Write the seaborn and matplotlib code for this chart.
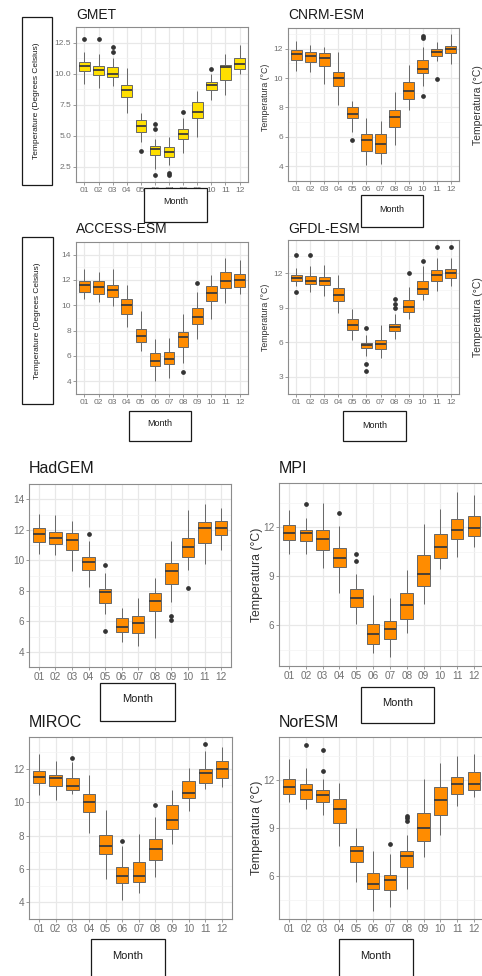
import numpy as np
import pandas as pd
import matplotlib
matplotlib.use("Agg")
import matplotlib.pyplot as plt
import seaborn as sns
from matplotlib.patches import Rectangle
from matplotlib.ticker import FormatStrFormatter

sns.set_theme(style="white")
plt.rcParams["font.family"] = ["Liberation Sans", "DejaVu Sans"]

W, H = 482, 976

MONTHS = ["01", "02", "03", "04", "05", "06", "07", "08", "09", "10", "11", "12"]

# Monthly box statistics: (lower whisker, Q1, median, Q3, upper whisker)
GMET = [(9.18, 10.23, 10.59, 10.96, 11.74), (8.80, 9.86, 10.31, 10.57, 11.60),
        (8.98, 9.73, 9.92, 10.49, 11.27), (6.83, 8.11, 8.66, 9.11, 10.41),
        (4.48, 5.27, 5.79, 6.21, 6.83), (2.27, 3.39, 3.91, 4.17, 4.75),
        (2.66, 3.26, 3.65, 4.04, 4.88), (3.57, 4.69, 5.14, 5.53, 6.44),
        (4.88, 6.44, 6.91, 7.67, 8.61), (7.88, 8.66, 9.05, 9.31, 9.97),
        (8.27, 9.50, 10.54, 10.70, 11.59), (9.92, 10.36, 10.75, 11.27, 12.27)]
GMET_OUT = {1: [12.79], 2: [12.76], 3: [11.74, 12.16], 5: [3.78],
            6: [1.82, 5.53, 5.92], 7: [1.85, 2.00], 8: [6.89], 10: [10.36]}

CNRM = [(10.46, 11.25, 11.62, 11.89, 12.49), (10.40, 11.10, 11.47, 11.74, 12.26),
        (9.61, 10.83, 11.36, 11.72, 12.11), (8.16, 9.44, 9.97, 10.40, 11.79),
        (6.31, 7.27, 7.55, 8.00, 8.42), (4.11, 5.07, 5.82, 6.20, 7.27),
        (4.17, 4.92, 5.50, 6.20, 7.10), (5.45, 6.67, 7.37, 7.80, 9.08),
        (7.84, 8.55, 9.12, 9.76, 10.87), (9.48, 10.34, 10.64, 11.21, 12.11),
        (11.15, 11.53, 11.79, 11.96, 12.47), (10.98, 11.68, 11.96, 12.21, 12.98)]
CNRM_OUT = {5: [5.81], 10: [8.80, 12.70, 12.85], 11: [9.91]}

ACCESS = [(10.47, 11.05, 11.60, 11.91, 12.84), (10.28, 10.86, 11.44, 11.91, 12.65),
          (9.93, 10.67, 11.21, 11.60, 12.88), (8.30, 9.35, 10.00, 10.47, 11.63),
          (6.40, 7.09, 7.56, 8.14, 9.53), (4.00, 5.21, 5.58, 6.26, 7.37),
          (4.23, 5.33, 5.79, 6.33, 7.44), (5.47, 6.74, 7.49, 7.91, 9.35),
          (7.37, 8.53, 9.05, 9.81, 11.05), (8.95, 10.35, 10.98, 11.51, 12.42),
          (10.16, 11.33, 11.91, 12.65, 13.70), (10.86, 11.44, 11.98, 12.44, 13.58)]
ACCESS_OUT = {8: [4.77], 9: [11.80]}

GFDL = [(10.89, 11.35, 11.61, 11.79, 12.43), (10.32, 11.09, 11.35, 11.74, 12.65),
        (10.03, 10.94, 11.28, 11.64, 12.70), (8.56, 9.59, 10.06, 10.68, 11.79),
        (6.23, 7.09, 7.50, 8.04, 8.90), (4.81, 5.46, 5.72, 5.92, 6.60),
        (4.60, 5.38, 5.85, 6.23, 7.53), (6.28, 6.93, 7.32, 7.58, 8.43),
        (8.04, 8.61, 9.03, 9.67, 10.81), (9.67, 10.16, 10.63, 11.28, 12.62),
        (10.45, 11.35, 11.79, 12.26, 13.34), (10.89, 11.61, 12.00, 12.39, 13.34)]
GFDL_OUT = {1: [10.37, 13.55], 2: [13.60], 6: [3.47, 4.11, 7.27],
            8: [9.00, 9.34, 9.72], 9: [12.00], 10: [13.09], 11: [14.30], 12: [14.25]}

HADGEM = [(10.39, 11.20, 11.72, 12.13, 13.01), (10.32, 11.07, 11.48, 11.85, 12.97),
          (9.27, 10.67, 11.35, 11.76, 12.60), (8.24, 9.36, 9.89, 10.21, 11.25),
          (6.47, 7.18, 7.89, 8.11, 9.14), (4.65, 5.31, 5.64, 6.19, 6.90),
          (4.37, 5.21, 5.91, 6.34, 7.51), (4.93, 6.65, 7.33, 7.83, 8.82),
          (7.23, 8.43, 9.27, 9.79, 11.29), (9.38, 10.22, 10.86, 11.48, 13.30),
          (9.76, 11.10, 12.09, 12.54, 13.66), (10.64, 11.66, 12.09, 12.60, 13.44)]
HADGEM_OUT = {4: [11.72], 5: [5.34, 9.66], 9: [6.10, 6.35], 10: [8.15]}

MPI = [(10.33, 11.23, 11.63, 12.10, 13.02), (10.37, 11.13, 11.63, 11.84, 12.57),
       (9.52, 10.62, 11.29, 11.84, 13.48), (7.97, 9.56, 10.13, 10.72, 12.04),
       (6.06, 7.12, 7.67, 8.20, 9.15), (4.31, 4.82, 5.45, 6.10, 7.87),
       (4.07, 5.15, 5.74, 6.26, 7.67), (5.49, 6.35, 7.22, 7.97, 9.40),
       (7.28, 8.40, 9.15, 10.27, 12.20), (9.46, 10.11, 10.78, 11.59, 13.12),
       (10.17, 11.25, 11.80, 12.51, 14.14), (10.78, 11.43, 11.94, 12.67, 13.97)]
MPI_OUT = {2: [13.42], 4: [12.87], 5: [9.90, 10.37]}

MIROC = [(10.42, 11.17, 11.49, 11.87, 12.87), (10.14, 10.98, 11.44, 11.62, 12.49),
         (10.51, 10.74, 10.96, 11.45, 12.40), (8.16, 9.42, 10.02, 10.51, 11.64),
         (5.37, 6.88, 7.40, 8.01, 9.51), (4.11, 5.18, 5.56, 6.12, 7.40),
         (4.56, 5.22, 5.56, 6.44, 8.10), (5.52, 6.56, 7.20, 7.82, 9.10),
         (7.48, 8.42, 8.95, 9.80, 10.74), (9.46, 10.23, 10.55, 11.25, 12.02),
         (10.78, 11.17, 11.77, 12.00, 13.04), (10.89, 11.44, 11.96, 12.47, 13.32)]
MIROC_OUT = {3: [12.66], 6: [7.67], 8: [9.80], 11: [13.51]}

NORESM = [(10.64, 11.12, 11.54, 12.04, 13.30), (10.18, 10.81, 11.37, 11.75, 12.73),
          (9.80, 10.60, 11.06, 11.37, 12.10), (7.88, 9.32, 10.22, 10.79, 11.79),
          (5.62, 6.88, 7.57, 7.88, 9.03), (3.80, 5.18, 5.52, 6.19, 7.57),
          (4.06, 5.10, 5.73, 6.04, 7.36), (5.21, 6.56, 7.23, 7.55, 8.55),
          (7.19, 8.17, 9.03, 9.91, 12.04), (8.55, 9.80, 10.75, 11.54, 13.05),
          (10.37, 11.12, 11.75, 12.21, 13.51), (10.95, 11.41, 11.75, 12.52, 13.63)]
NORESM_OUT = {2: [14.20], 3: [12.60, 13.88], 7: [7.99], 8: [9.45, 9.60, 9.74]}


def month_samples(stats, outliers):
    """Build a per-month sample whose quartiles, whiskers and outliers
    reproduce the given box statistics."""
    rows = []
    for i, (lo, q1, med, q3, hi) in enumerate(stats):
        extra = outliers.get(i + 1, [])
        low_out = sorted(v for v in extra if v < q1)
        high_out = sorted(v for v in extra if v > q3)
        iqr = q3 - q1
        lo = max(lo, q1 - 1.5 * iqr + 1e-6)
        hi = min(hi, q3 + 1.5 * iqr - 1e-6)
        k = max(len(low_out), len(high_out)) + 1
        vals = (low_out + [lo] + [q1] * (k - len(low_out)) + [med] * k + [q3] * k
                + [q3] * (k - 1 - len(high_out)) + [hi] + high_out)
        rows += [(MONTHS[i], v) for v in vals]
    return pd.DataFrame(rows, columns=["Month", "Temp"])


YELLOW = "#FFDF00"
ORANGE = "#FF8C00"

fig = plt.figure(figsize=(W / 100, H / 100), dpi=100)
fig.patch.set_facecolor("white")


def px_axes(l, t, r, b):
    return fig.add_axes([l / W, 1 - b / H, (r - l) / W, (b - t) / H])


panels = [
    # title, stats, outliers, fill, (l, t, r, b), ylim, yticks, fmt, title size, tick size, title baseline
    ("GMET", GMET, GMET_OUT, YELLOW, (76, 27, 248, 182), (1.25, 13.36),
     [2.5, 5.0, 7.5, 10.0, 12.5], "%.1f", 10, 6, 19),
    ("CNRM-ESM", CNRM, CNRM_OUT, ORANGE, (288, 28, 459, 181), (3.6, 13.4),
     [4, 6, 8, 10, 12], "%d", 10, 6, 19),
    ("ACCESS-ESM", ACCESS, ACCESS_OUT, ORANGE, (76, 242, 248, 394), (3.5, 14.07),
     [4, 6, 8, 10, 12, 14], "%d", 10, 6, 233),
    ("GFDL-ESM", GFDL, GFDL_OUT, ORANGE, (288, 240, 459, 394), (2.92, 14.87),
     [3, 6, 9, 12], "%d", 10, 6, 233),
    ("HadGEM", HADGEM, HADGEM_OUT, ORANGE, (29, 484, 231, 667), (3.78, 14.06),
     [4, 6, 8, 10, 12, 14], "%d", 11.5, 7.2, 473),
    ("MPI", MPI, MPI_OUT, ORANGE, (279, 483, 484, 666), (3.5, 14.7),
     [6, 9, 12], "%d", 11.5, 7.2, 473),
    ("MIROC", MIROC, MIROC_OUT, ORANGE, (29, 737, 232, 919), (3.66, 13.9),
     [4, 6, 8, 10, 12], "%d", 11.5, 7.2, 727),
    ("NorESM", NORESM, NORESM_OUT, ORANGE, (279, 737, 484, 919), (3.3, 14.7),
     [6, 9, 12], "%d", 11.5, 7.2, 727),
]

title_specs = []
for (title, stats, outs, fill, rect, ylim, yticks, fmt, tsize, ksize, tbase) in panels:
    ax = px_axes(*rect)
    df = month_samples(stats, outs)
    sns.boxplot(data=df, x="Month", y="Temp", order=MONTHS, color=fill,
                saturation=1, width=0.75, linewidth=0.7, linecolor="#666666",
                showcaps=False, fliersize=2.4,
                medianprops=dict(color="#3b3b3b", linewidth=1.3),
                flierprops=dict(marker="o", markerfacecolor="#333333",
                                markeredgecolor="#333333"),
                ax=ax, zorder=3)
    ax.set_xlim(-0.6, 11.6)
    ax.set_ylim(*ylim)
    ax.set_yticks(yticks)
    step = yticks[1] - yticks[0]
    minor = [v - step / 2 for v in yticks] + [yticks[-1] + step / 2]
    ax.set_yticks(minor, minor=True)
    ax.yaxis.set_major_formatter(FormatStrFormatter(fmt))
    ax.set_xlabel("")
    ax.set_ylabel("")
    ax.set_facecolor("white")
    ax.set_axisbelow(True)
    ax.grid(which="major", color="#E8E8E8", linewidth=0.9)
    ax.grid(which="minor", axis="y", color="#F3F3F3", linewidth=0.5)
    ax.tick_params(which="major", length=2, width=0.6, color="#8a8a8a",
                   labelcolor="#707070", labelsize=ksize, pad=1.5,
                   bottom=True, left=True)
    ax.tick_params(which="minor", length=0)
    for sp in ax.spines.values():
        sp.set_color("#8c8c8c")
        sp.set_linewidth(0.8)
    title_specs.append((title, rect[0], tbase, tsize))

# Overlay in pixel coordinates for titles, axis-label boxes and side labels
ov = fig.add_axes([0, 0, 1, 1], zorder=10)
ov.set_xlim(0, W)
ov.set_ylim(H, 0)
ov.axis("off")
ov.patch.set_alpha(0)

for title, x, base, size in title_specs:
    ov.text(x, base, title, fontsize=size, color="#1a1a1a", ha="left", va="baseline")


def label_box(l, t, r, b, text, size, rotation=0, ty=None):
    ov.add_patch(Rectangle((l, t), r - l, b - t, facecolor="white",
                           edgecolor="#1a1a1a", linewidth=0.9))
    cy = (t + b) / 2 if ty is None else ty
    ov.text((l + r) / 2, cy, text, fontsize=size, color="#1a1a1a",
            ha="center", va="center", rotation=rotation)


# y-axis label boxes
label_box(22, 17, 52, 185, "Temperature (Degrees Celsius)", 6, rotation=90)
label_box(22, 237, 53, 404, "Temperature (Degrees Celsius)", 6, rotation=90)

# x-axis label boxes
label_box(144, 188, 207, 222, "Month", 6.5, ty=202)
label_box(361, 195, 423, 227, "Month", 6.5, ty=209)
label_box(129, 411, 191, 441, "Month", 6.5, ty=424)
label_box(343, 411, 406, 441, "Month", 6.5, ty=425)
label_box(100, 683, 175, 721, "Month", 8, ty=699)
label_box(361, 687, 434, 723, "Month", 8, ty=703)
label_box(91, 939, 165, 990, "Month", 8, ty=956)
label_box(339, 939, 413, 990, "Month", 8, ty=956)

# rotated axis titles
ycol = "#333333"
ov.text(266, 97, "Temperatura (°C)", fontsize=6.3, color=ycol, rotation=90, ha="center", va="center")
ov.text(266, 317, "Temperatura (°C)", fontsize=6.3, color=ycol, rotation=90, ha="center", va="center")
ov.text(257, 575, "Temperatura (°C)", fontsize=8.8, color=ycol, rotation=90, ha="center", va="center")
ov.text(257, 828, "Temperatura (°C)", fontsize=8.8, color=ycol, rotation=90, ha="center", va="center")
ov.text(478, 105, "Temperatura (°C)", fontsize=7.5, color=ycol, rotation=90, ha="center", va="center")
ov.text(478, 317, "Temperatura (°C)", fontsize=7.5, color=ycol, rotation=90, ha="center", va="center")

fig.savefig("out.png", dpi=100)
